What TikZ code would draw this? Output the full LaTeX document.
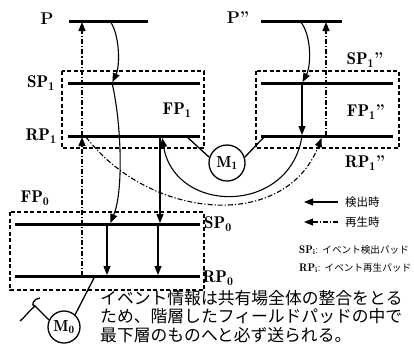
\documentclass[tikz,border=0pt]{standalone}
\usepackage{fontspec}
\newfontfamily\jp{Noto Sans CJK JP}
\usepackage{tikz}
\usetikzlibrary{arrows.meta, positioning}

\begin{document}
\begin{tikzpicture}[x=1pt, y=-1pt,
    bar/.style={line width=3pt},
    padbox/.style={line width=1.3pt, dash pattern=on 4pt off 2.5pt},
    lbl/.style={font=\fontsize{17}{19}\selectfont, inner sep=0pt},
    a/.style={-{Triangle[length=9pt,width=7pt]}, line width=1.1pt, shorten >=1pt},
    dd/.style={a, dash pattern=on 5pt off 2pt on 1.2pt off 2pt},
    fld/.style={circle, draw, line width=1.3pt, inner sep=0pt, font=\fontsize{16}{18}\selectfont}
  ]
  \useasboundingbox (0,0) rectangle (414,349);
  % pads
  \draw[bar] (69,21) coordinate (p-w) -- (148,21) coordinate (p-e);
  \draw[bar] (261,21) coordinate (q-w) -- (342,21) coordinate (q-e);
  \draw[bar] (68,83) -- (200,83);
  \draw[bar] (68,136) -- (200,136);
  \draw[bar] (261,83) -- (393,83);
  \draw[bar] (261,136) -- (393,136);
  \draw[bar] (15,224) -- (200,224);
  \draw[bar] (15,276) -- (200,276);
  \draw[padbox] (62,71) rectangle (204,148);
  \draw[padbox] (256,71) rectangle (399,148);
  \draw[padbox] (10,212) rectangle (204,290);

  \node[lbl] (lp) at (47,19) {\textbf{P}};
  \node[lbl] (lq) at (238,18) {\textbf{P''}};
  \node[lbl] (lsp1) at (41,83) {$\mathbf{SP_1}$};
  \node[lbl] (lrp1) at (41,136) {$\mathbf{RP_1}$};
  \node[lbl] (lfp1) at (177,110) {$\mathbf{FP_1}$};
  \node[lbl] (lsq1) at (365,60) {$\mathbf{SP_1}$\textbf{''}};
  \node[lbl] (lfq1) at (366,112) {$\mathbf{FP_1}$\textbf{''}};
  \node[lbl] (lrq1) at (365,163) {$\mathbf{RP_1}$\textbf{''}};
  \node[lbl] (lfp0) at (35,198) {$\mathbf{FP_0}$};
  \node[lbl] (lsp0) at (218,224) {$\mathbf{SP_0}$};
  \node[lbl] (lrp0) at (218,278) {$\mathbf{RP_0}$};

  \node[fld, minimum size=36pt] (M1) at (227,163) {$\mathbf{M_1}$};
  \node[fld, minimum size=32pt] (M0) at (64,327) {$\mathbf{M_0}$};

  % points on the pads
  \coordinate (p-s) at (110,21);
  \coordinate (p-d) at (82,21);
  \coordinate (sp1-s) at (112,83);
  \coordinate (rp1-d) at (82,136);
  \coordinate (rp1-a) at (86,137);
  \coordinate (rp1-v) at (160,136);
  \coordinate (rp1-u) at (162,137);
  \coordinate (rp1-m) at (186,136);
  \coordinate (q-s) at (300,21);
  \coordinate (q-d) at (326,21);
  \coordinate (sq1-s) at (302,83);
  \coordinate (rq1-s) at (302,136);
  \coordinate (rq1-d) at (326,136);
  \coordinate (rq1-a) at (322,137);
  \coordinate (rq1-m) at (265,136);
  \coordinate (sp0-s) at (110,224);
  \coordinate (sp0-v) at (160,224);
  \coordinate (sp0-l) at (107,224);
  \coordinate (sp0-r) at (158,224);
  \coordinate (rp0-l) at (107,276);
  \coordinate (rp0-r) at (158,276);
  \coordinate (rp0-d) at (82,276);
  \coordinate (rp0-m) at (95,276);
  \coordinate (fork) at (35,306);

  % detection
  \draw[a] (p-s) .. controls (120,35) and (120,66) .. (sp1-s);
  \draw[a] (sp1-s) .. controls (121,120) and (124,190) .. (sp0-s);
  \draw[a] (q-s) .. controls (312,35) and (311,66) .. (sq1-s);
  \draw[a] (sq1-s) -- (rq1-s);
  \draw[a] (rq1-s) .. controls (290,215) and (175,215) .. (rp1-u);
  \draw[a] (rp1-v) -- (sp0-v);
  \draw[a] (sp0-l) -- (rp0-l);
  \draw[a] (sp0-r) -- (rp0-r);
  % playback
  \draw[dd] (rp0-d) -- (rp1-d);
  \draw[dd] (rp1-d) -- (p-d);
  \draw[dd] (rq1-d) -- (q-d);
  \draw[dd] (rp1-a) .. controls (150,220) and (285,232) .. (rq1-a);
  % fields
  \draw[line width=1.3pt] (rp1-m) -- (M1.162);
  \draw[line width=1.3pt] (rq1-m) -- (M1.18);
  \draw[line width=1.3pt] (rp0-m) -- (M0.48);
  \draw[line width=1.3pt] (M0.155) -- (fork);
  \draw[line width=1.3pt] (40,298) .. controls (34,298) and (30,306) .. (fork)
    .. controls (28,312) and (24,318) .. (20,321);

  % legend
  \coordinate (lg1-e) at (338,202); \coordinate (lg1-w) at (303,202);
  \coordinate (lg2-e) at (338,222); \coordinate (lg2-w) at (303,222);
  \draw[a] (lg1-e) -- (lg1-w);
  \draw[dd] (lg2-e) -- (lg2-w);
  \node[anchor=west, inner sep=0pt, font=\jp\fontsize{11.5}{13}\selectfont] (det) at (345,202) {検出時};
  \node[anchor=west, inner sep=0pt, font=\jp\fontsize{11.5}{13}\selectfont] (rep) at (345,222) {再生時};
  \node[anchor=west, inner sep=0pt, font=\fontsize{11}{13}\selectfont] (defsp) at (299,250)
    {$\mathbf{SP_i}$:\hspace{4pt}{\jp\fontsize{9.6}{12}\selectfont イベント検出パッド}};
  \node[anchor=west, inner sep=0pt, font=\fontsize{11}{13}\selectfont] (defrp) at (299,268)
    {$\mathbf{RP_i}$:\hspace{4pt}{\jp\fontsize{9.6}{12}\selectfont イベント再生パッド}};

  \node[anchor=north west, inner sep=0pt, align=left, font=\jp\fontsize{16.8}{18.5}\selectfont] (note) at (100,290)
    {イベント情報は共有場全体の整合をとる\\ため、階層したフィールドパッドの中で\\最下層のものへと必ず送られる。};
\end{tikzpicture}
\end{document}
